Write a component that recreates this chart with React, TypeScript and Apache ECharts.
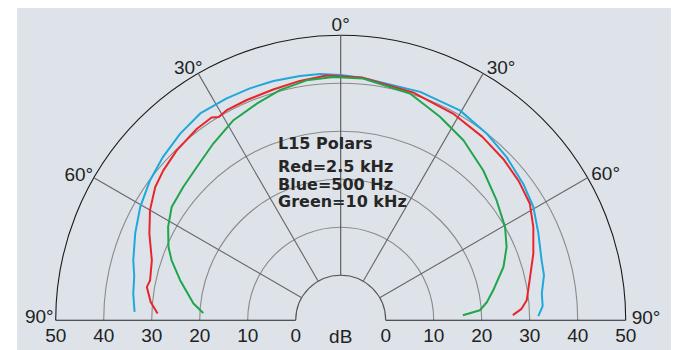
import React, { useEffect, useRef } from "react";
import * as echarts from "echarts";

// ---- data ----
const angleMin = -90;
const angleMax = 90;
const angleStep = 30;
const dbMin = 0;
const dbMax = 50;
const dbStep = 10;

const blueAngles = [-87.7, -82.7, -78, -73.9, -67.1, -60.5, -53.7, -47.4, -40.7, -34.2, -27.2, -21.4, -15.7, -9.5, -4.8, 0, 5.3, 19.2, 29.6, 38, 45.5, 53.2, 59.5, 66.3, 73.4, 77.5, 82.4, 86, 88.8];
const blueDb = [33.6, 34.2, 34.6, 35.6, 37.1, 38.6, 39.9, 40.9, 41.9, 42.7, 42.6, 42.5, 42.4, 42.2, 42.1, 41.7, 41.3, 41.0, 40.9, 40.0, 39.1, 38.1, 37.2, 35.6, 34.3, 34.0, 32.9, 32.8, 31.8];

const redAngles = [-87.9, -84.5, -80.3, -78.2, -72.4, -65.6, -60, -54.3, -49.8, -44, -36.9, -32.5, -31, -28.5, -23.1, -16.3, -9.7, -3.3, 5, 17.6, 28.8, 37.7, 45.5, 52, 58.4, 64.2, 70.9, 77.1, 83.9, 86.5, 88.3];
const redDb = [28.8, 30.4, 31.6, 31.2, 31.9, 34.4, 36.5, 38.2, 39.0, 39.8, 40.5, 40.7, 40.0, 40.4, 40.5, 40.7, 41.2, 41.7, 41.4, 40.4, 39.6, 38.9, 38.3, 37.7, 36.9, 35.2, 33.1, 31.1, 29.6, 28.3, 26.5];

const greenAngles = [-87, -83.5, -76, -70.5, -67, -61.6, -56.2, -49.7, -43.2, -35.8, -28.2, -21.2, -14.8, -8.1, -1.7, 5.3, 17, 26, 34.3, 43.6, 52.4, 60.4, 66.2, 71.9, 78.9, 83, 85.9, 87.7];
const greenDb = [19.3, 21.5, 25.1, 28.0, 29.6, 31.5, 33.0, 33.6, 34.4, 36.0, 37.9, 39.0, 40.2, 41.1, 41.3, 41.2, 40.0, 37.8, 36.0, 33.7, 31.6, 30.0, 28.4, 26.3, 23.0, 21.3, 19.7, 16.1];

const legendLines = ["L15 Polars", "Red=2.5 kHz", "Blue=500 Hz", "Green=10 kHz"];
const unitLabel = "dB";

// ---- layout ----
const CX = 340.7;
const CY = 320.2;
const R0 = 45;
const R1 = 285;
const FONT = "'Liberation Sans', Arial, sans-serif";
const TEXT_FONT = "'DejaVu Sans', sans-serif";
const INK = "#222";

const toPolar = (angles: number[], db: number[]) => angles.map((a, i) => [db[i], a]);

const labelStyle = (pad: number[]) => ({
  fontFamily: FONT,
  fontSize: 19,
  color: INK,
  padding: pad,
});

export default function App() {
  const ref = useRef<HTMLDivElement>(null);
  useEffect(() => {
    const chart = echarts.init(ref.current!, null, { renderer: "svg" });
    const legendY = [143.5, 166.8, 184.3, 201.8];
    const option: any = {
      animation: false,
      backgroundColor: "transparent",
      graphic: [
        {
          type: "rect",
          z: -100,
          silent: true,
          shape: { x: 17, y: 8, width: 654, height: 342 },
          style: { fill: "#dee3e9" },
        },
        ...legendLines.map((t, i) => ({
          type: "text",
          z: 100,
          x: 278,
          y: legendY[i],
          style: {
            text: t,
            fontFamily: TEXT_FONT,
            fontSize: 16,
            fontWeight: "bold",
            lineHeight: 16,
            fill: "#262626",
            align: "left",
            verticalAlign: "middle",
          },
        })),
        {
          type: "text",
          z: 100,
          x: CX,
          y: 336,
          style: {
            text: unitLabel,
            fontFamily: FONT,
            fontSize: 19,
            fill: INK,
            align: "center",
            verticalAlign: "middle",
          },
        },
      ],
      polar: { center: [CX, CY], radius: [R0, R1] },
      angleAxis: {
        type: "value",
        min: angleMin,
        max: angleMax,
        interval: angleStep,
        startAngle: 180,
        endAngle: 0,
        clockwise: true,
        axisLine: { show: false },
        axisTick: { show: false },
        splitLine: {
          show: true,
          lineStyle: {
            color: ["#222", "#666", "#666", "#555", "#666", "#666", "#222"],
            width: 1.1,
          },
        },
        axisLabel: {
          show: true,
          margin: -13,
          formatter: (v: number) => {
            const a = Math.abs(v);
            const side = v < 0 ? "l" : v > 0 ? "r" : "c";
            return `{${side}${a}|${a}°}`;
          },
          rich: {
            c0: labelStyle([0, 0, 14, 0]),
            l30: labelStyle([0, 2, 8, 0]),
            l60: labelStyle([0, 12, 0, 0]),
            l90: labelStyle([0, 15, 7, 0]),
            r30: labelStyle([0, 0, 8, 10]),
            r60: labelStyle([0, 0, 1, 15]),
            r90: labelStyle([0, 0, 6, 19]),
          },
        },
      },
      radiusAxis: {
        type: "value",
        min: dbMin,
        max: dbMax,
        interval: dbStep,
        axisLine: { show: false },
        axisTick: { show: false },
        axisLabel: { show: false },
        splitLine: {
          show: true,
          lineStyle: {
            color: ["#555", "#8a8a8a", "#8a8a8a", "#8a8a8a", "#8a8a8a", "#1a1a1a"],
            width: 1.1,
          },
        },
      },
      grid: [
        { left: CX - R1, top: CY - 20, width: R1 - R0, height: 20 },
        { left: CX + R0, top: CY - 20, width: R1 - R0, height: 20 },
      ],
      xAxis: [0, 1].map((g) => ({
        gridIndex: g,
        type: "value",
        min: dbMin,
        max: dbMax,
        interval: dbStep,
        inverse: g === 0,
        position: "bottom",
        axisLine: { show: false },
        axisTick: { show: false },
        splitLine: { show: false },
        axisLabel: {
          margin: 6,
          fontFamily: FONT,
          fontSize: 19,
          color: INK,
          showMinLabel: true,
          showMaxLabel: true,
        },
      })),
      yAxis: [0, 1].map((g) => ({ gridIndex: g, type: "value", show: false })),
      series: [
        {
          name: "Blue=500 Hz",
          type: "line",
          coordinateSystem: "polar",
          data: toPolar(blueAngles, blueDb),
          symbol: "none",
          lineStyle: { color: "#1ea8dc", width: 2 },
          z: 3,
        },
        {
          name: "Red=2.5 kHz",
          type: "line",
          coordinateSystem: "polar",
          data: toPolar(redAngles, redDb),
          symbol: "none",
          lineStyle: { color: "#e6262b", width: 2 },
          z: 4,
        },
        {
          name: "Green=10 kHz",
          type: "line",
          coordinateSystem: "polar",
          data: toPolar(greenAngles, greenDb),
          symbol: "none",
          lineStyle: { color: "#1fa54a", width: 2 },
          z: 5,
        },
      ],
    };
    chart.setOption(option);
    return () => chart.dispose();
  }, []);
  return (
    <div
      ref={ref}
      style={{ position: "fixed", left: 0, top: 0, width: 682, height: 350, background: "#fff" }}
    />
  );
}
